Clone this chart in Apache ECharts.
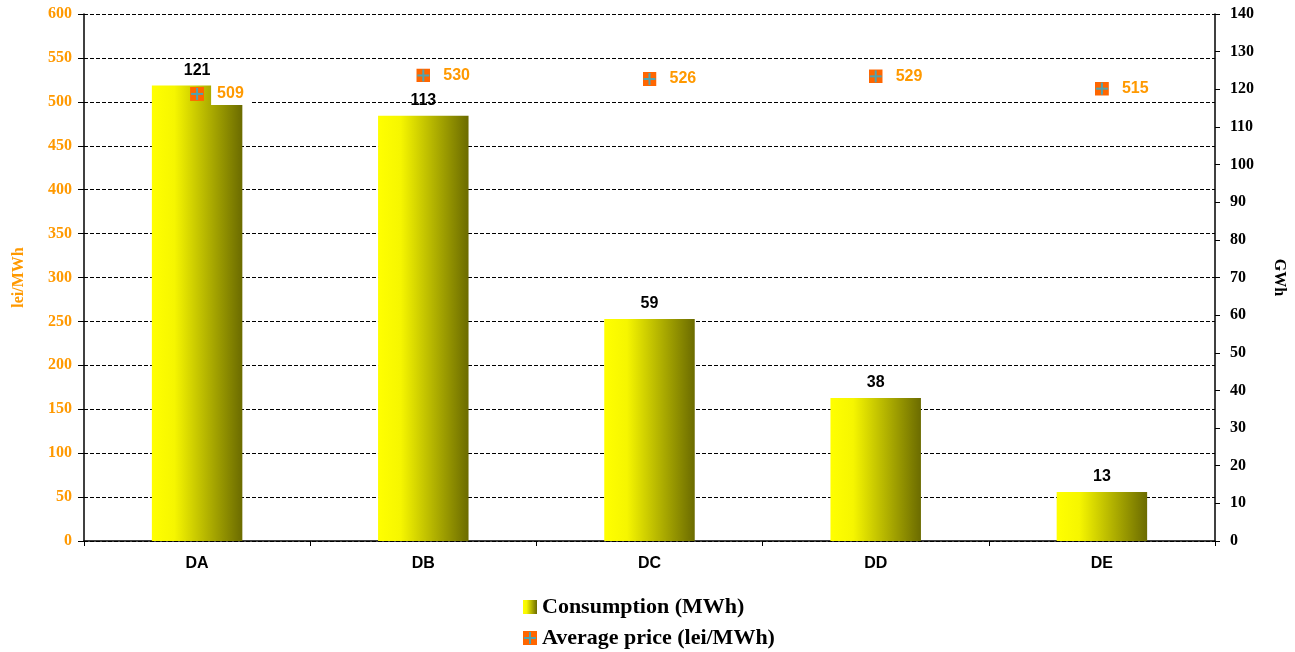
<!DOCTYPE html>
<html>
<head>
<meta charset="utf-8">
<script src="https://cdn.jsdelivr.net/npm/echarts@6/dist/echarts.min.js"></script>
<style>html,body{margin:0;padding:0;background:#fff;}#c{width:1295px;height:652px;}</style>
</head>
<body>
<div id="c"></div>
<script>
const categories = ['DA', 'DB', 'DC', 'DD', 'DE'];
const consumption = [121, 113, 59, 38, 13];
const avgPrice = [509, 530, 526, 529, 515];
const leftTicks = {min: 0, max: 600, interval: 50};
const rightTicks = {min: 0, max: 140, interval: 10};

const markerSvg = "<svg xmlns='http://www.w3.org/2000/svg' width='14' height='14'><rect width='14' height='14' fill='#FF6600'/><rect x='6' y='1' width='2' height='12' fill='#4FA3B0'/><rect x='1' y='6' width='12' height='2' fill='#4FA3B0'/></svg>";
const markerImg = 'image://data:image/svg+xml;charset=utf-8,' + encodeURIComponent(markerSvg);

const barGrad = new echarts.graphic.LinearGradient(0, 0, 1, 0, [
  {offset: 0, color: '#FFFF00'},
  {offset: 0.25, color: '#F6F600'},
  {offset: 1, color: '#6B6B00'}
]);

const orange = '#FF9900';
const serif = 'Liberation Serif';
const sans = 'Liberation Sans';

const chart = echarts.init(document.getElementById('c'));
chart.setOption({
  animation: false,
  backgroundColor: '#fff',
  grid: {left: 84, right: 78, top: 14, bottom: 111},
  legend: {
    orient: 'vertical',
    left: 523,
    top: 596,
    height: 56,
    itemGap: 9,
    itemWidth: 14,
    itemHeight: 14,
    padding: 0,
    textStyle: {fontFamily: serif, fontWeight: 'bold', fontSize: 22, color: '#000'},
    data: [
      {name: 'Consumption (MWh)', icon: 'rect'},
      {name: 'Average price (lei/MWh)', icon: markerImg}
    ]
  },
  xAxis: {
    type: 'category',
    data: categories,
    axisLine: {lineStyle: {color: '#000', width: 1.5}},
    axisTick: {show: true, length: 5, lineStyle: {color: '#000'}},
    axisLabel: {fontFamily: sans, fontWeight: 'bold', fontSize: 16, color: '#000', margin: 15}
  },
  yAxis: [
    {
      type: 'value',
      min: leftTicks.min, max: leftTicks.max, interval: leftTicks.interval,
      name: 'lei/MWh',
      nameLocation: 'middle',
      nameRotate: 90,
      nameGap: 57,
      nameTextStyle: {fontFamily: serif, fontWeight: 'bold', fontSize: 16, color: orange},
      axisLine: {show: true, lineStyle: {color: '#000', width: 1.5}},
      axisTick: {show: true, length: 6, lineStyle: {color: '#000'}},
      axisLabel: {fontFamily: serif, fontWeight: 'bold', fontSize: 16, color: orange, margin: 12},
      splitLine: {show: true, lineStyle: {color: '#000', type: [4, 2], width: 1}}
    },
    {
      type: 'value',
      min: rightTicks.min, max: rightTicks.max, interval: rightTicks.interval,
      name: 'GWh',
      nameLocation: 'middle',
      nameRotate: -90,
      nameGap: 56,
      nameTextStyle: {fontFamily: serif, fontWeight: 'bold', fontSize: 16, color: '#000'},
      axisLine: {show: true, lineStyle: {color: '#000', width: 1.5}},
      axisTick: {show: true, length: 5, lineStyle: {color: '#000'}},
      axisLabel: {fontFamily: serif, fontWeight: 'bold', fontSize: 16, color: '#000', margin: 15},
      splitLine: {show: false}
    }
  ],
  series: [
    {
      name: 'Consumption (MWh)',
      type: 'bar',
      yAxisIndex: 1,
      data: consumption,
      barWidth: '40%',
      itemStyle: {color: barGrad},
      label: {
        show: true, position: 'top', distance: 7,
        fontFamily: sans, fontWeight: 'bold', fontSize: 16, color: '#000'
      },
      z: 2
    },
    {
      name: 'Average price (lei/MWh)',
      type: 'scatter',
      yAxisIndex: 0,
      data: avgPrice,
      symbol: markerImg,
      symbolSize: 14,
      itemStyle: {opacity: 1},
      label: {
        show: true, position: 'right', distance: 7,
        fontFamily: sans, fontWeight: 'bold', fontSize: 16, color: orange,
        backgroundColor: '#fff', padding: [3, 8, 3, 6]
      },
      z: 5
    }
  ]
});
</script>
</body>
</html>
